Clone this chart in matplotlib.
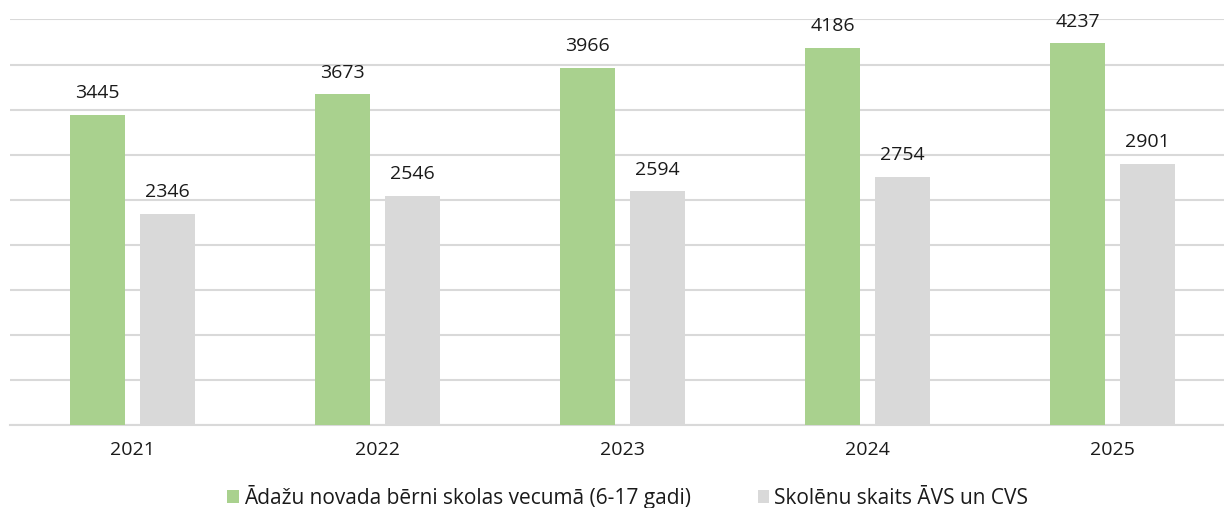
import matplotlib
matplotlib.use("Agg")
import matplotlib.pyplot as plt
import numpy as np

years = ["2021", "2022", "2023", "2024", "2025"]
children = [3445, 3673, 3966, 4186, 4237]
pupils = [2346, 2546, 2594, 2754, 2901]
series_names = ["Ādažu novada bērni skolas vecumā (6-17 gadi)", "Skolēnu skaits ĀVS un CVS"]

plt.rcParams['font.family'] = ['Open Sans', 'DejaVu Sans']

W, H = 1224, 508
fig = plt.figure(figsize=(W/100, H/100), dpi=100)
ax = fig.add_axes([10/W, (H-425)/H, 1225/W, 405.5/H])

x = np.arange(len(years))
bw = 0.2245
off = 0.143
green = "#a9d18e"
grey = "#d9d9d9"
b1 = ax.bar(x - off, children, bw, color=green, label=series_names[0], zorder=3)
b2 = ax.bar(x + off, pupils, bw, color=grey, label=series_names[1], zorder=3)

for bars in (b1, b2):
    for r in bars:
        ax.annotate(f"{int(r.get_height())}", (r.get_x() + r.get_width()/2, r.get_height()),
                    xytext=(0, 9), textcoords="offset points", ha="center", va="bottom",
                    fontsize=14, color="#1a1a1a")

ax.set_xlim(-0.5, 4.5)
ax.set_ylim(0, 4500)
ax.set_yticks(np.arange(0, 4501, 500))
ax.yaxis.grid(True, color="#d9d9d9", linewidth=1.5, zorder=0)
ax.set_axisbelow(True)
ax.tick_params(axis='y', left=False, labelleft=False)
ax.tick_params(axis='x', bottom=False, labelsize=14, colors="#1a1a1a", pad=8)
ax.set_xticks(x)
ax.set_xticklabels(years)
for s in ("left", "right", "top"):
    ax.spines[s].set_visible(False)
ax.spines["bottom"].set_color("#d9d9d9")
ax.spines["bottom"].set_linewidth(1.5)

fig.legend(handles=[b1, b2], labels=series_names, loc="center", bbox_to_anchor=(628/W, 1 - 497/H),
           ncol=2, frameon=False, fontsize=15, handlelength=0.55, handleheight=0.55,
           handletextpad=0.25, columnspacing=3.2, labelcolor="#1a1a1a")

fig.savefig("out.png", dpi=100)
